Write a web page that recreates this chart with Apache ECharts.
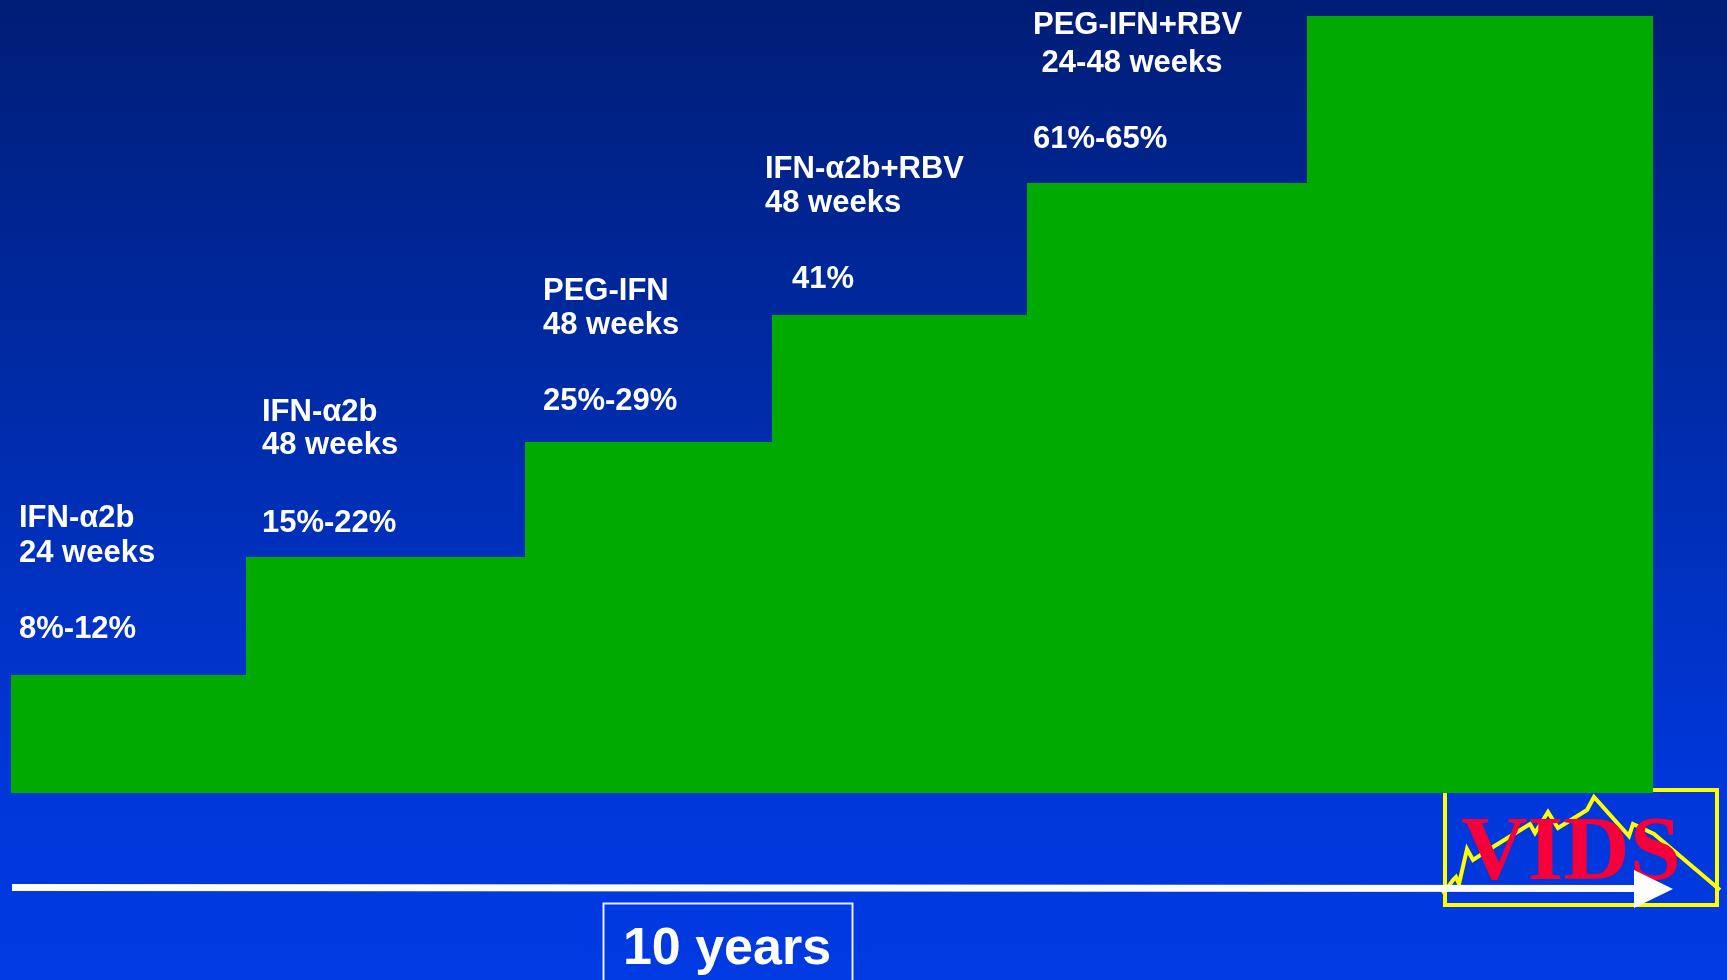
<!DOCTYPE html>
<html>
<head>
<meta charset="utf-8">
<title>HCV therapy milestones</title>
<script src="https://cdn.jsdelivr.net/npm/echarts@6/dist/echarts.min.js"></script>
<style>
  html, body { margin: 0; padding: 0; background: #0030c0; }
  #chart { width: 1727px; height: 980px; }
</style>
</head>
<body>
<div id="chart"></div>
<script>
// Treatment eras shown as a rising staircase over a ten-year span.
const treatments = ['IFN-\u03b12b', 'IFN-\u03b12b', 'PEG-IFN', 'IFN-\u03b12b+RBV', 'PEG-IFN+RBV'];
const durations  = ['24 weeks', '48 weeks', '48 weeks', '48 weeks', ' 24-48 weeks'];
const svrRates   = ['8%-12%', '15%-22%', '25%-29%', '41%', '61%-65%'];

// Step extents along the time axis (years) and relative step heights.
const stepStart = [0, 1.43, 3.13, 4.635, 6.19, 7.89];
const stepEnd   = [1.43, 3.13, 4.635, 6.19, 7.89, 10];
const stepLevel = [15.2, 30.4, 45.2, 61.5, 78.5, 100];

const spanLabel = '10 years';

// Text placement for each step's caption (left x, baselines of the three lines).
const captionLayout = [
  { x: 19,   base: [526, 561, 637] },
  { x: 262,  base: [420, 453, 531] },
  { x: 543,  base: [299, 333, 409] },
  { x: 765,  base: [177, 211, 287], rateX: 792 },
  { x: 1033, base: [33, 71, 147] }
];

const chart = echarts.init(document.getElementById('chart'), null, { renderer: 'canvas' });

const FONT = 'bold 31px "Liberation Sans", Arial, Helvetica, sans-serif';
const MID = 7.5; // offset from baseline to the text's vertical middle

const graphics = [];

// slide background
graphics.push({
  type: 'rect', z: 0, z2: 0, silent: true,
  shape: { x: 0, y: 0, width: 1727, height: 980 },
  style: {
    fill: new echarts.graphic.LinearGradient(0, 0, 0, 1, [
      { offset: 0, color: '#001d76' },
      { offset: 0.45, color: '#002dae' },
      { offset: 0.8, color: '#0037da' },
      { offset: 1, color: '#003ae2' }
    ])
  }
});

// VIDS logo: yellow frame, zigzag trace and red lettering
graphics.push({
  type: 'rect', z: 1, z2: 1, silent: true,
  shape: { x: 1445, y: 790, width: 272, height: 115 },
  style: { fill: null, stroke: '#ffff00', lineWidth: 4 }
});
graphics.push({
  type: 'polyline', z: 1, z2: 2, silent: true,
  shape: {
    points: [
      [1443, 894], [1453, 880], [1456, 877], [1459, 884], [1467, 849], [1473, 860],
      [1493, 847], [1530, 824], [1535, 833], [1548, 812], [1558, 828], [1587, 810],
      [1594, 797], [1629, 836], [1633, 824], [1654, 834], [1720, 890]
    ]
  },
  style: { fill: null, stroke: '#ffff00', lineWidth: 4, lineJoin: 'miter' }
});
graphics.push({
  type: 'text', z: 1, z2: 3, silent: true,
  style: {
    x: 1571, y: 855, text: 'VIDS',
    font: 'bold 92px "Liberation Serif", "Times New Roman", serif',
    fill: '#f5003a', textAlign: 'center', textVerticalAlign: 'middle'
  }
});

// time arrow
graphics.push({
  type: 'line', z: 1, z2: 4, silent: true,
  shape: { x1: 12, y1: 887.5, x2: 1640, y2: 888.5 },
  style: { stroke: '#ffffff', lineWidth: 7 }
});
graphics.push({
  type: 'polygon', z: 1, z2: 5, silent: true,
  shape: { points: [[1634, 870], [1673, 889], [1634, 908]] },
  style: { fill: '#ffffff' }
});

// span box
graphics.push({
  type: 'rect', z: 1, z2: 4, silent: true,
  shape: { x: 603.5, y: 903.5, width: 249, height: 100 },
  style: { fill: null, stroke: '#e6ecff', lineWidth: 2 }
});
graphics.push({
  type: 'text', z: 1, z2: 5, silent: true,
  style: {
    x: 727, y: 950, text: spanLabel,
    font: 'bold 52px "Liberation Sans", Arial, Helvetica, sans-serif',
    fill: '#ffffff', textAlign: 'center', textVerticalAlign: 'middle'
  }
});

// step captions
captionLayout.forEach((lay, i) => {
  const lines = [treatments[i], durations[i], svrRates[i]];
  lines.forEach((t, k) => {
    const x = (k === 2 && lay.rateX) ? lay.rateX : lay.x;
    graphics.push({
      type: 'text', z: 10, silent: true,
      style: {
        x: x, y: lay.base[k] - MID, text: t, font: FONT,
        fill: '#ffffff', textAlign: 'left', textVerticalAlign: 'middle'
      }
    });
  });
});

const stepData = stepStart.map((s, i) => [s, stepEnd[i], stepLevel[i]]);

chart.setOption({
  animation: false,
  grid: { left: 11, right: 74, top: 16, bottom: 187 },
  xAxis: { type: 'value', min: 0, max: 10, show: false },
  yAxis: { type: 'value', min: 0, max: 100, show: false },
  graphic: { elements: graphics },
  series: [{
    type: 'custom',
    z: 5,
    silent: true,
    data: stepData,
    encode: { x: [0, 1], y: 2 },
    renderItem: function (params, api) {
      const topLeft = api.coord([api.value(0), api.value(2)]);
      const bottomRight = api.coord([api.value(1), 0]);
      const x0 = Math.round(topLeft[0]);
      const x1 = Math.round(bottomRight[0]);
      const y0 = Math.round(topLeft[1]);
      const y1 = Math.round(bottomRight[1]);
      return {
        type: 'rect',
        shape: { x: x0, y: y0, width: x1 - x0, height: y1 - y0 },
        style: { fill: '#00aa00' }
      };
    }
  }]
});
</script>
</body>
</html>
